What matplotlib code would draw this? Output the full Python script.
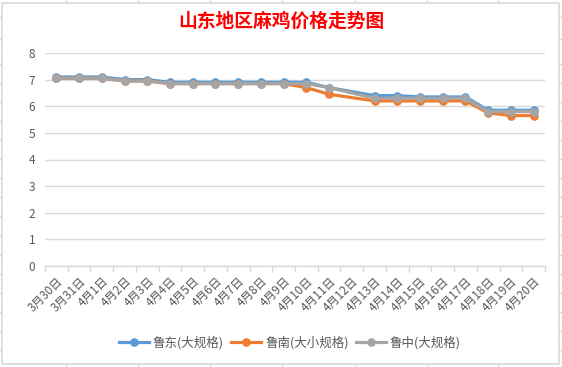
import numpy as np
import matplotlib
matplotlib.use("Agg")
import matplotlib.pyplot as plt
from matplotlib.lines import Line2D
from matplotlib.patches import Rectangle

plt.rcParams['font.family'] = ['Noto Sans CJK SC', 'DejaVu Sans']

title = "山东地区麻鸡价格走势图"
dates = ['3月30日', '3月31日', '4月1日', '4月2日', '4月3日', '4月4日', '4月5日',
         '4月6日', '4月7日', '4月8日', '4月9日', '4月10日', '4月11日', '4月12日',
         '4月13日', '4月14日', '4月15日', '4月16日', '4月17日', '4月18日',
         '4月19日', '4月20日']
nan = np.nan
ludong = [7.1, 7.1, 7.1, 7.0, 7.0, 6.9, 6.9, 6.9, 6.9, 6.9, 6.9, 6.9, 6.7, nan,
          6.4, 6.4, 6.35, 6.35, 6.35, 5.85, 5.85, 5.85]
lunan = [7.05, 7.05, 7.05, 6.95, 6.95, 6.85, 6.85, 6.85, 6.85, 6.85, 6.85, 6.7, 6.45, nan,
         6.2, 6.2, 6.2, 6.2, 6.2, 5.75, 5.65, 5.65]
luzhong = [7.05, 7.05, 7.05, 6.95, 6.95, 6.85, 6.85, 6.85, 6.85, 6.85, 6.85, 6.85, 6.7, nan,
           6.3, 6.3, 6.3, 6.3, 6.3, 5.8, 5.8, 5.8]
series_names = ['鲁东(大规格)', '鲁南(大小规格)', '鲁中(大规格)']
colors = ['#5B9BD5', '#ED7D31', '#A5A5A5']
yticks = [0, 1, 2, 3, 4, 5, 6, 7, 8]

W, H = 562, 367
fig = plt.figure(figsize=(W / 100, H / 100), dpi=100)
fig.patch.set_facecolor('white')

# spreadsheet background
bg = fig.add_axes([0, 0, 1, 1], zorder=0)
bg.set_xlim(0, W)
bg.set_ylim(H, 0)
bg.axis('off')
cell_c = '#D4D4D4'
for x in [66.3, 138.4, 210.4, 282.4, 354.5, 426.5, 498.2]:
    bg.plot([x, x], [0, H], color=cell_c, lw=0.8)
rows = [16.7, 39.3, 64] + list(64 + 19.05 * np.arange(1, 16))
for y in rows:
    bg.plot([0, W], [y, y], color=cell_c, lw=0.8)
bg.add_patch(Rectangle((2.3, 2.5), 559.4 - 2.3, 364 - 2.5, facecolor='white',
                       edgecolor='#D9D9D9', lw=1.2, zorder=3))

# main plot axes
left, right, top, bottom = 45, 545, 53, 266
ax = fig.add_axes([left / W, 1 - bottom / H, (right - left) / W, (bottom - top) / H], zorder=2)
ax.patch.set_alpha(0)

x = np.arange(len(dates))
handles = []
for vals, c, name in zip([ludong, lunan, luzhong], colors, series_names):
    v = np.array(vals, dtype=float)
    m = ~np.isnan(v)
    h, = ax.plot(x[m], v[m], color=c, lw=2.3, marker='o', markersize=5.2,
                 markeredgecolor=c, label=name, solid_joinstyle='round')
    handles.append(h)

ax.set_xlim(-0.5, len(dates) - 0.5)
ax.set_ylim(0, 8)
ax.set_yticks(yticks)
ax.yaxis.grid(True, color='#D9D9D9', lw=1.0)
ax.set_axisbelow(True)
for s in ['top', 'right', 'left']:
    ax.spines[s].set_visible(False)
ax.spines['bottom'].set_color('#D9D9D9')
ax.spines['bottom'].set_linewidth(1.0)
ax.tick_params(axis='y', length=0, pad=7, labelsize=8.5, labelcolor='#595959')

ax.set_xticks(x)
ax.set_xticklabels(dates, rotation=45, ha='right', va='top', rotation_mode='anchor',
                   fontsize=8.5, color='#595959')
ax.tick_params(axis='x', which='major', length=0, pad=6)
ax.set_xticks(np.arange(-0.5, len(dates), 1.0), minor=True)
ax.tick_params(axis='x', which='minor', length=4, color='#D9D9D9', width=1.0)

fig.text(281 / W, 1 - 21 / H, title, color='#FF0000', fontsize=13.5, fontweight='bold',
         ha='center', va='center')

leg = fig.legend(handles=handles, loc='center', bbox_to_anchor=(290 / W, 1 - 343 / H),
                 ncol=3, frameon=False, fontsize=9, handlelength=2.4, columnspacing=0.6,
                 handletextpad=0.3, labelcolor='#595959')

fig.savefig('out.png', dpi=100, facecolor='white')
